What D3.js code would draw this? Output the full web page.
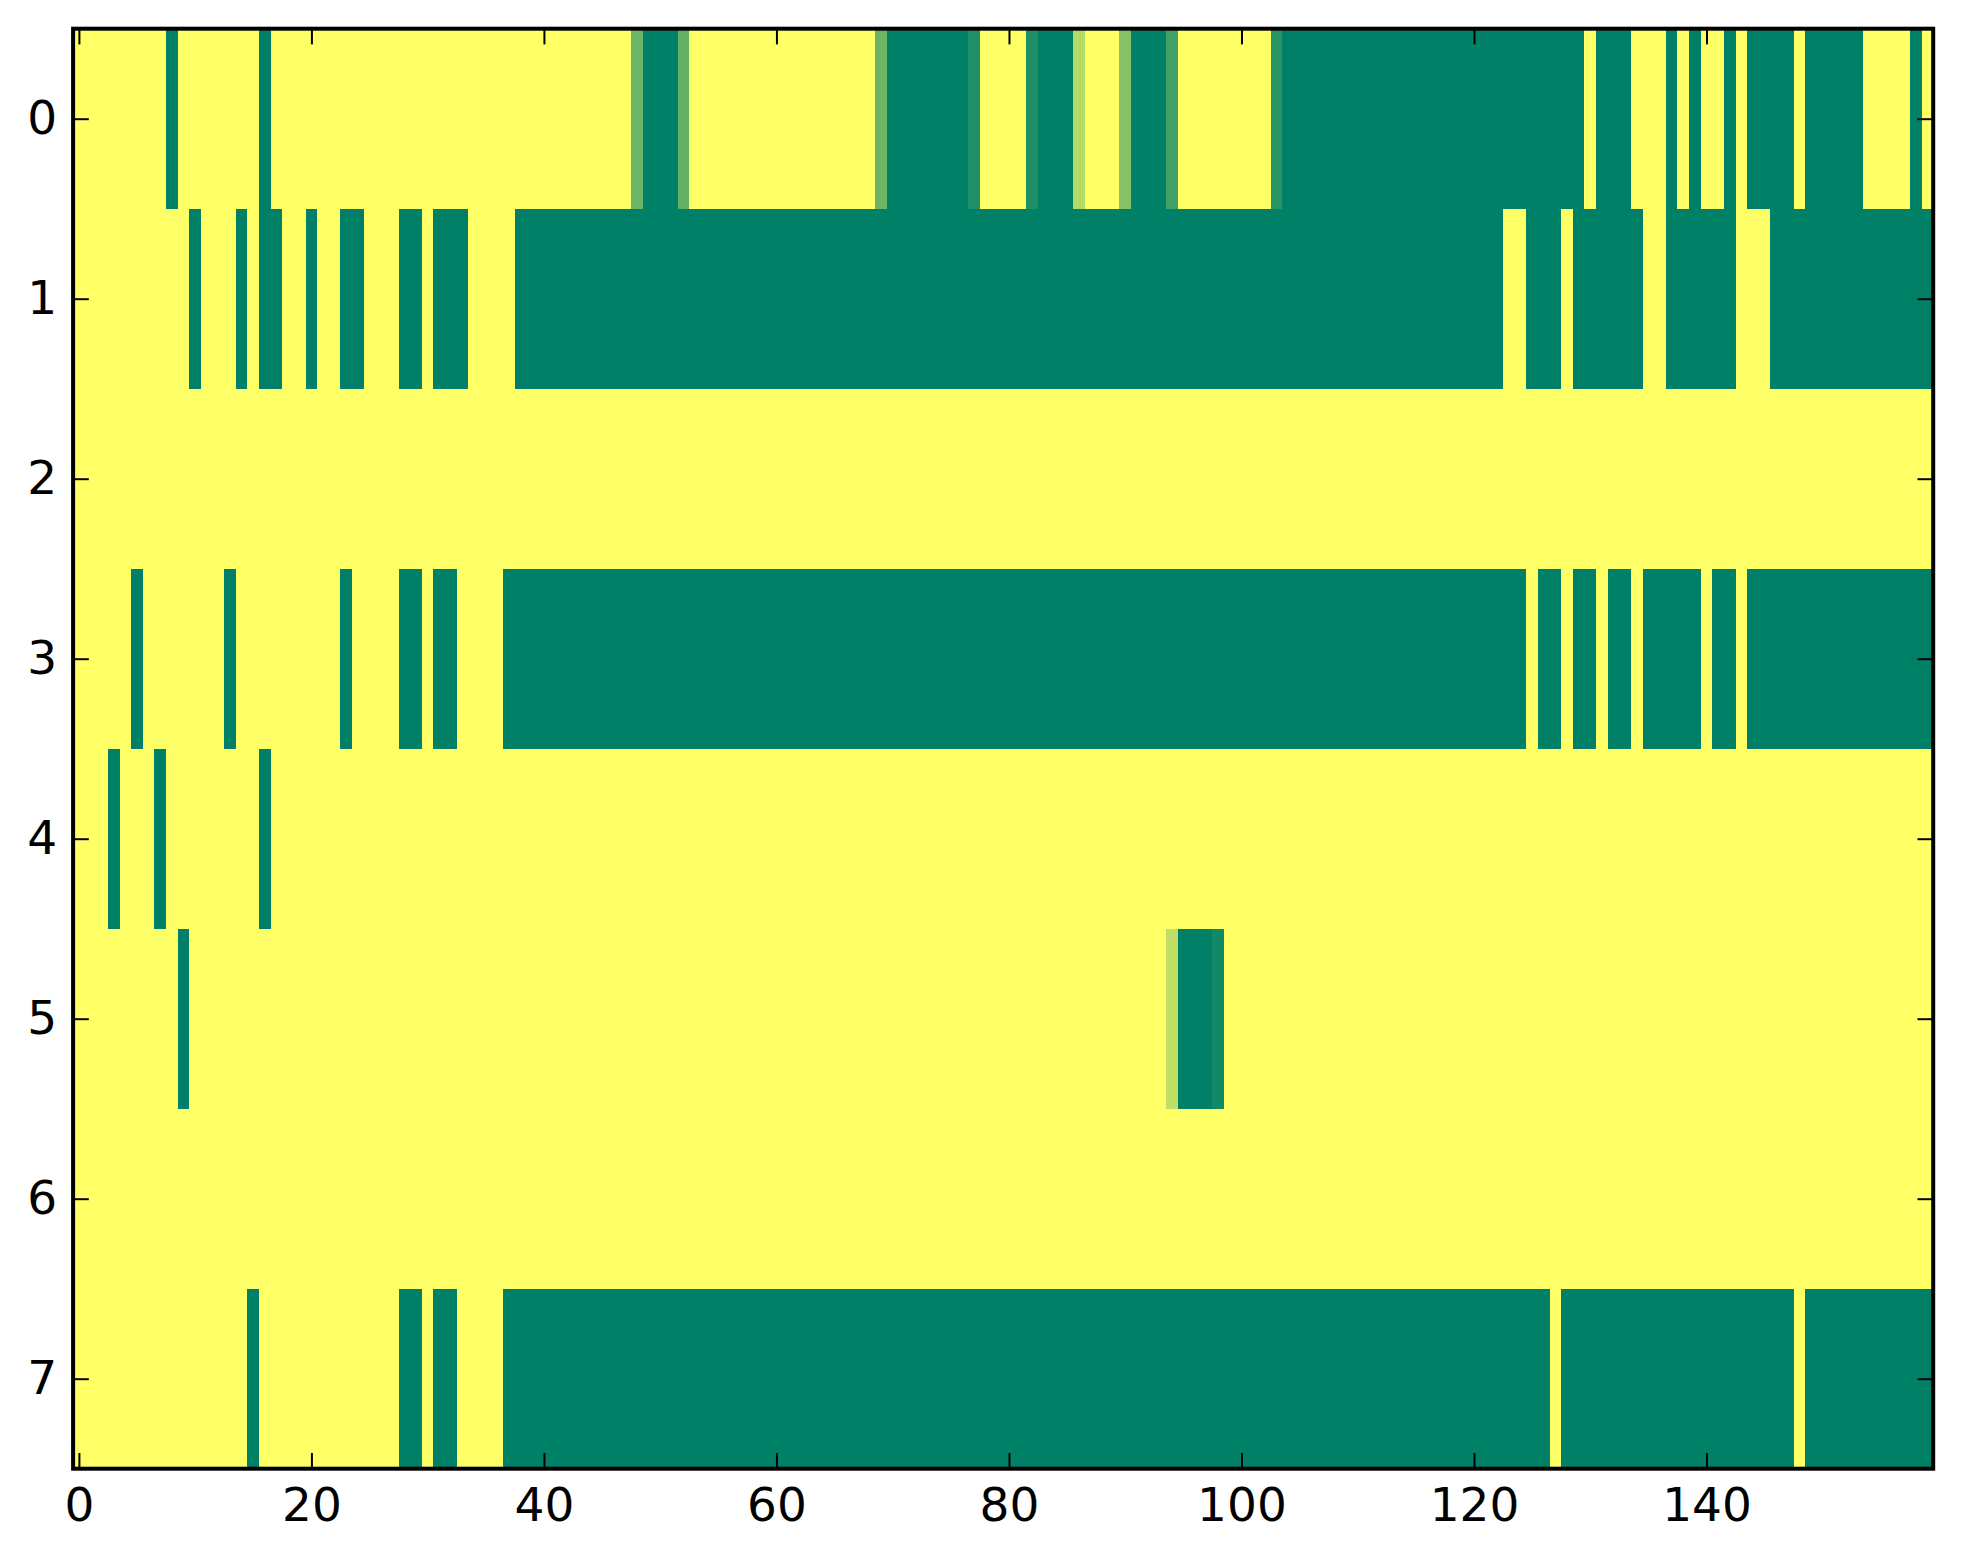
<!DOCTYPE html>
<html>
<head>
<meta charset="utf-8">
<script src="https://cdn.jsdelivr.net/npm/d3@7"></script>
<style>
  html, body { margin: 0; padding: 0; background: #ffffff; }
  svg { display: block; }
  text { font-family: "DejaVu Sans", sans-serif; }
</style>
</head>
<body>
<svg id="chart" width="1963" height="1564"></svg>
<script>
// ---- data (values 0..1, one array per row, 160 columns each) ----
const row0 = [0,0,0,0,0,0,0,0,1,0, 0,0,0,0,0,0,1,0,0,0, 0,0,0,0,0,0,0,0,0,0, 0,0,0,0,0,0,0,0,0,0,
              0,0,0,0,0,0,0,0,0.58,1, 1,1,0.62,0,0,0,0,0,0,0, 0,0,0,0,0,0,0,0,0,0.58, 1,1,1,1,1,1,1,0.88,0,0,
              0,0,0.88,1,1,1,0.29,0,0,0, 0.47,1,1,1,0.74,0,0,0,0,0, 0,0,0,0.84,1,1,1,1,1,1, 1,1,1,1,1,1,1,1,1,1,
              1,1,1,1,1,1,1,1,1,1, 0,1,1,1,0,0,0,1,0,1, 0,0,1,0,1,1,1,1,0,1, 1,1,1,1,0,0,0,0,1,0];
const row1 = [0,0,0,0,0,0,0,0,0,0, 1,0,0,0,1,0,1,1,0,0, 1,0,0,1,1,0,0,0,1,1, 0,1,1,1,0,0,0,0,1,1,
              1,1,1,1,1,1,1,1,1,1, 1,1,1,1,1,1,1,1,1,1, 1,1,1,1,1,1,1,1,1,1, 1,1,1,1,1,1,1,1,1,1,
              1,1,1,1,1,1,1,1,1,1, 1,1,1,1,1,1,1,1,1,1, 1,1,1,1,1,1,1,1,1,1, 1,1,1,1,1,1,1,1,1,1,
              1,1,1,0,0,1,1,1,0,1, 1,1,1,1,1,0,0,1,1,1, 1,1,1,0,0,0,1,1,1,1, 1,1,1,1,1,1,1,1,1,1];
const row2 = [0,0,0,0,0,0,0,0,0,0, 0,0,0,0,0,0,0,0,0,0, 0,0,0,0,0,0,0,0,0,0, 0,0,0,0,0,0,0,0,0,0,
              0,0,0,0,0,0,0,0,0,0, 0,0,0,0,0,0,0,0,0,0, 0,0,0,0,0,0,0,0,0,0, 0,0,0,0,0,0,0,0,0,0,
              0,0,0,0,0,0,0,0,0,0, 0,0,0,0,0,0,0,0,0,0, 0,0,0,0,0,0,0,0,0,0, 0,0,0,0,0,0,0,0,0,0,
              0,0,0,0,0,0,0,0,0,0, 0,0,0,0,0,0,0,0,0,0, 0,0,0,0,0,0,0,0,0,0, 0,0,0,0,0,0,0,0,0,0];
const row3 = [0,0,0,0,0,1,0,0,0,0, 0,0,0,1,0,0,0,0,0,0, 0,0,0,1,0,0,0,0,1,1, 0,1,1,0,0,0,0,1,1,1,
              1,1,1,1,1,1,1,1,1,1, 1,1,1,1,1,1,1,1,1,1, 1,1,1,1,1,1,1,1,1,1, 1,1,1,1,1,1,1,1,1,1,
              1,1,1,1,1,1,1,1,1,1, 1,1,1,1,1,1,1,1,1,1, 1,1,1,1,1,1,1,1,1,1, 1,1,1,1,1,1,1,1,1,1,
              1,1,1,1,1,0,1,1,0,1, 1,0,1,1,0,1,1,1,1,1, 0,1,1,0,1,1,1,1,1,1, 1,1,1,1,1,1,1,1,1,1];
const row4 = [0,0,0,1,0,0,0,1,0,0, 0,0,0,0,0,0,1,0,0,0, 0,0,0,0,0,0,0,0,0,0, 0,0,0,0,0,0,0,0,0,0,
              0,0,0,0,0,0,0,0,0,0, 0,0,0,0,0,0,0,0,0,0, 0,0,0,0,0,0,0,0,0,0, 0,0,0,0,0,0,0,0,0,0,
              0,0,0,0,0,0,0,0,0,0, 0,0,0,0,0,0,0,0,0,0, 0,0,0,0,0,0,0,0,0,0, 0,0,0,0,0,0,0,0,0,0,
              0,0,0,0,0,0,0,0,0,0, 0,0,0,0,0,0,0,0,0,0, 0,0,0,0,0,0,0,0,0,0, 0,0,0,0,0,0,0,0,0,0];
const row5 = [0,0,0,0,0,0,0,0,0,1, 0,0,0,0,0,0,0,0,0,0, 0,0,0,0,0,0,0,0,0,0, 0,0,0,0,0,0,0,0,0,0,
              0,0,0,0,0,0,0,0,0,0, 0,0,0,0,0,0,0,0,0,0, 0,0,0,0,0,0,0,0,0,0, 0,0,0,0,0,0,0,0,0,0,
              0,0,0,0,0,0,0,0,0,0, 0,0,0,0,0.25,1,1,1,0.93,0, 0,0,0,0,0,0,0,0,0,0, 0,0,0,0,0,0,0,0,0,0,
              0,0,0,0,0,0,0,0,0,0, 0,0,0,0,0,0,0,0,0,0, 0,0,0,0,0,0,0,0,0,0, 0,0,0,0,0,0,0,0,0,0];
const row6 = [0,0,0,0,0,0,0,0,0,0, 0,0,0,0,0,0,0,0,0,0, 0,0,0,0,0,0,0,0,0,0, 0,0,0,0,0,0,0,0,0,0,
              0,0,0,0,0,0,0,0,0,0, 0,0,0,0,0,0,0,0,0,0, 0,0,0,0,0,0,0,0,0,0, 0,0,0,0,0,0,0,0,0,0,
              0,0,0,0,0,0,0,0,0,0, 0,0,0,0,0,0,0,0,0,0, 0,0,0,0,0,0,0,0,0,0, 0,0,0,0,0,0,0,0,0,0,
              0,0,0,0,0,0,0,0,0,0, 0,0,0,0,0,0,0,0,0,0, 0,0,0,0,0,0,0,0,0,0, 0,0,0,0,0,0,0,0,0,0];
const row7 = [0,0,0,0,0,0,0,0,0,0, 0,0,0,0,0,1,0,0,0,0, 0,0,0,0,0,0,0,0,1,1, 0,1,1,0,0,0,0,1,1,1,
              1,1,1,1,1,1,1,1,1,1, 1,1,1,1,1,1,1,1,1,1, 1,1,1,1,1,1,1,1,1,1, 1,1,1,1,1,1,1,1,1,1,
              1,1,1,1,1,1,1,1,1,1, 1,1,1,1,1,1,1,1,1,1, 1,1,1,1,1,1,1,1,1,1, 1,1,1,1,1,1,1,1,1,1,
              1,1,1,1,1,1,1,0,1,1, 1,1,1,1,1,1,1,1,1,1, 1,1,1,1,1,1,1,1,0,1, 1,1,1,1,1,1,1,1,1,1];
const rows = [row0, row1, row2, row3, row4, row5, row6, row7];
const xTickValues = [0, 20, 40, 60, 80, 100, 120, 140];
const yTickValues = [0, 1, 2, 3, 4, 5, 6, 7];

// ---- layout ----
const plotLeft = 73.1, plotRight = 1933.2, plotTop = 28.7, plotBottom = 1468.7;
const nCols = row0.length, nRows = rows.length;

const svg = d3.select("#chart");
const x = d3.scaleLinear().domain([-0.5, nCols - 0.5]).range([plotLeft, plotRight]);
const y = d3.scaleLinear().domain([-0.5, nRows - 0.5]).range([plotTop, plotBottom]);
// summer_r colormap: 0 -> yellow, 1 -> green (linear in RGB)
const color = d3.scaleLinear().domain([0, 1]).range(["#ffff66", "#008066"]).interpolate(d3.interpolateRgb);

const cells = [];
rows.forEach((r, ri) => r.forEach((v, ci) => cells.push({ r: ri, c: ci, v: v })));

svg.append("g")
  .attr("shape-rendering", "crispEdges")
  .selectAll("rect")
  .data(cells)
  .join("rect")
  .attr("x", d => x(d.c - 0.5))
  .attr("y", d => y(d.r - 0.5))
  .attr("width", d => x(d.c + 0.5) - x(d.c - 0.5) + 0.5)
  .attr("height", d => y(d.r + 0.5) - y(d.r - 0.5) + 0.5)
  .attr("fill", d => color(d.v));

const tickLen = 15.7;
const fontSize = 47;

function styleAxis(g) {
  g.select(".domain").remove();
  g.selectAll(".tick line").attr("stroke", "#000").attr("stroke-width", 2);
  g.selectAll(".tick text")
    .attr("fill", "#000")
    .style("font-family", "'DejaVu Sans', sans-serif")
    .style("font-size", fontSize + "px");
}

svg.append("g").attr("transform", `translate(0,${plotBottom})`)
  .call(d3.axisBottom(x).tickValues(xTickValues).tickFormat(d3.format("d"))
    .tickSizeInner(-tickLen).tickSizeOuter(0).tickPadding(19))
  .call(styleAxis);

svg.append("g").attr("transform", `translate(0,${plotTop})`)
  .call(d3.axisTop(x).tickValues(xTickValues).tickFormat("")
    .tickSizeInner(-tickLen).tickSizeOuter(0))
  .call(styleAxis);

svg.append("g").attr("transform", `translate(${plotLeft},0)`)
  .call(d3.axisLeft(y).tickValues(yTickValues).tickFormat(d3.format("d"))
    .tickSizeInner(-tickLen).tickSizeOuter(0).tickPadding(16))
  .call(styleAxis);

svg.append("g").attr("transform", `translate(${plotRight},0)`)
  .call(d3.axisRight(y).tickValues(yTickValues).tickFormat("")
    .tickSizeInner(-tickLen).tickSizeOuter(0))
  .call(styleAxis);

// frame
svg.append("rect")
  .attr("x", plotLeft).attr("y", plotTop)
  .attr("width", plotRight - plotLeft).attr("height", plotBottom - plotTop)
  .attr("fill", "none").attr("stroke", "#000").attr("stroke-width", 4);
</script>
</body>
</html>
